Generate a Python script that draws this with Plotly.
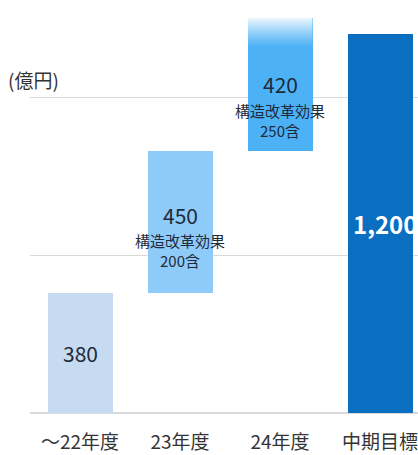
import plotly.graph_objects as go

categories = ["～22年度", "23年度", "24年度", "中期目標"]
increments = [380, 450, 420]
target = 1200
notes = ["", "構造改革効果<br>200含", "構造改革効果<br>250含", ""]
unit_label = "(億円)"
grid_vals = [500, 1000]

values = increments + [target]
bases = []
run = 0
for v in increments:
    bases.append(run)
    run += v
bases.append(0)

colors = ["#C6DBF1", "#8FCBF8", "#4DB1F6", "#0A6FC1"]
xs = list(range(len(categories)))
W = 0.65
FONT = "Noto Sans CJK JP"

fig = go.Figure()
fig.add_trace(go.Bar(
    x=xs, y=values, base=bases, width=W,
    marker=dict(color=colors, line=dict(width=0)),
    hoverinfo="skip", showlegend=False,
))

# fade at top of 24年度 bar
i = 2
top = bases[i] + values[i]
fade_from = top - 90
fig.add_trace(go.Scatter(
    x=[xs[i] - W / 2, xs[i] + W / 2, xs[i] + W / 2, xs[i] - W / 2, xs[i] - W / 2],
    y=[fade_from, fade_from, top + 2, top + 2, fade_from],
    mode="lines", line=dict(width=0), fill="toself",
    fillgradient=dict(type="vertical", start=fade_from, stop=top,
                      colorscale=[[0, "rgba(255,255,255,0)"], [0.6, "rgba(255,255,255,0.5)"],
                                  [1, "rgba(255,255,255,0.9)"]]),
    hoverinfo="skip", showlegend=False,
))

shifts = [0, 7, 0, 0]
for k, (x, b, v) in enumerate(zip(xs, bases, values)):
    mid = b + v / 2
    last = k == len(xs) - 1
    fig.add_annotation(
        x=x, y=mid, xref="x", yref="y", text=f"{v:,}", showarrow=False,
        yshift=shifts[k], xshift=5 if last else 0,
        font=dict(family=FONT, size=24 if last else 21, color="#FFFFFF" if last else "#1F2A3A",
                  weight="bold" if last else "normal"),
    )
    if notes[k]:
        fig.add_annotation(
            x=x, y=mid, xref="x", yref="y", text=notes[k], showarrow=False,
            yshift=shifts[k] - 36, font=dict(family=FONT, size=15, color="#1F2A3A"),
        )

fig.add_annotation(
    x=-0.062, y=1000, xref="paper", yref="y", xanchor="left", yanchor="bottom",
    yshift=2, text=unit_label, showarrow=False,
    font=dict(family=FONT, size=19, color="#333333"),
)

fig.update_layout(
    width=418, height=455,
    margin=dict(l=30, r=0, t=0, b=42),
    plot_bgcolor="white", paper_bgcolor="white",
    bargap=0,
    xaxis=dict(range=[-0.5, 3.38], tickvals=xs, ticktext=categories,
               showgrid=False, zeroline=False, showline=False, ticks="",
               ticklabelstandoff=16, ticklabeloverflow="allow",
               tickfont=dict(family=FONT, size=19, color="#333333"),
               fixedrange=True),
    yaxis=dict(range=[0, 1307], tickvals=grid_vals, showticklabels=False,
               showgrid=True, gridcolor="#D9D9D9", gridwidth=1,
               zeroline=True, zerolinecolor="#D9D9D9", zerolinewidth=1.5,
               showline=False, fixedrange=True),
)

fig.write_html("out.html")
